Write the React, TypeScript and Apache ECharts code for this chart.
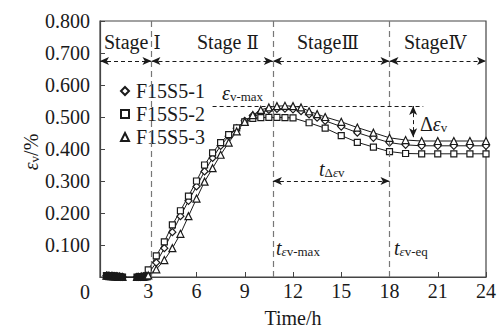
import React, { useEffect, useRef } from "react";
import * as echarts from "echarts";

const preTimes = [0.4, 0.5, 0.6, 0.7, 0.8, 0.9, 1.0, 1.1, 1.2, 1.3, 1.4, 1.5, 1.6, 1.7, 1.8, 1.9, 2.0, 2.1, 2.2, 2.3, 2.4, 2.5, 2.6, 2.7, 2.8, 2.9];
const preValues = [0.004, 0.004, 0.003, 0.003, 0.003, 0.002, 0.002, 0.001, 0.001, 0.0, 0.0, -0.001, -0.001, -0.001, -0.001, -0.001, -0.001, -0.001, -0.001, 0.0, 0.0, 0.0, 0.001, 0.001, 0.002, 0.003];

const timesA = [3, 3.5, 4, 4.5, 5, 5.5, 6, 6.5, 7, 7.5, 8, 8.5, 9, 9.5, 10, 10.5, 11, 11.5, 12, 12.5, 13, 13.5, 14, 15, 16, 17, 18, 19, 20, 21, 22, 23, 24];
const timesB = [3, 3.5, 4, 4.5, 5, 5.5, 6, 6.5, 7, 7.5, 8, 8.5, 9, 9.5, 10, 10.5, 11, 11.5, 12, 13, 14, 15, 16, 17, 18, 19, 20, 21, 22, 23, 24];

const s1Values = [0.01, 0.045, 0.09, 0.14, 0.19, 0.238, 0.283, 0.33, 0.372, 0.41, 0.44, 0.465, 0.488, 0.505, 0.515, 0.522, 0.525, 0.526, 0.524, 0.518, 0.508, 0.498, 0.488, 0.47, 0.451, 0.435, 0.42, 0.413, 0.41, 0.41, 0.41, 0.41, 0.41];
const s2Values = [0.022, 0.066, 0.11, 0.163, 0.207, 0.253, 0.3, 0.35, 0.388, 0.42, 0.445, 0.466, 0.485, 0.496, 0.498, 0.499, 0.499, 0.498, 0.497, 0.482, 0.465, 0.442, 0.421, 0.406, 0.392, 0.386, 0.385, 0.385, 0.385, 0.385, 0.385];
const s3Values = [0.005, 0.024, 0.053, 0.09, 0.135, 0.19, 0.245, 0.298, 0.34, 0.382, 0.42, 0.455, 0.485, 0.506, 0.522, 0.53, 0.534, 0.535, 0.534, 0.53, 0.518, 0.509, 0.5, 0.485, 0.467, 0.451, 0.435, 0.428, 0.425, 0.425, 0.425, 0.425, 0.425];

const seriesNames = ["F15S5-1", "F15S5-2", "F15S5-3"];
const xTicks = [0, 24, 3];
const yTicks = [0, 0.8, 0.1];

const stageBounds = [0, 3.2, 10.75, 18, 24];
const stageArrowY = 0.675;
const epsMaxY = 0.534;
const epsMaxLine = [7.0, 20.1];
const deltaX = 19.47;
const deltaBottom = 0.437;
const tDeltaY = 0.3;

const FONT = "Liberation Serif";
const ROMAN = "DejaVu Serif";
const INK = "#1a1a1a";

function build(times: number[], vals: number[]) {
  const pre: any[] = preTimes.map((t, i) => ({ value: [t, preValues[i]], itemStyle: { color: INK } }));
  return pre.concat(times.map((t, i) => [t, vals[i]]));
}

export default function App() {
  const ref = useRef<HTMLDivElement>(null);
  useEffect(() => {
    document.body.style.margin = "0";
    if (!ref.current) return;
    const chart = echarts.init(ref.current, null, { renderer: "svg" });

    const arrowPair = (a: number[], b: number[]) => [
      { coord: a, symbol: "arrow", symbolSize: [6, 9] },
      { coord: b, symbol: "arrow", symbolSize: [6, 9] },
    ];
    const dashedArrowStyle = { color: INK, width: 1, type: [4, 3] };

    const markLineData: any[] = [];
    for (let i = 0; i < stageBounds.length - 1; i++) {
      const p = arrowPair([stageBounds[i], stageArrowY], [stageBounds[i + 1], stageArrowY]);
      markLineData.push(p.map((q) => ({ ...q, lineStyle: dashedArrowStyle })));
    }
    [stageBounds[1], stageBounds[2], stageBounds[3]].forEach((x) => {
      markLineData.push([
        { coord: [x, yTicks[0]], symbol: "none", lineStyle: { color: "#777", width: 1.2, type: [6, 4] } },
        { coord: [x, yTicks[1]], symbol: "none" },
      ]);
    });
    markLineData.push([
      { coord: [epsMaxLine[0], epsMaxY], symbol: "none", lineStyle: dashedArrowStyle },
      { coord: [epsMaxLine[1], epsMaxY], symbol: "none" },
    ]);
    markLineData.push(
      arrowPair([deltaX, epsMaxY], [deltaX, deltaBottom]).map((q) => ({ ...q, lineStyle: dashedArrowStyle }))
    );
    markLineData.push(
      arrowPair([stageBounds[2], tDeltaY], [stageBounds[3], tDeltaY]).map((q) => ({ ...q, lineStyle: dashedArrowStyle }))
    );

    const symbols = ["diamond", "rect", "triangle"];
    const sizes = [7, 6, 7];
    const datas = [build(timesA, s1Values), build(timesB, s2Values), build(timesA, s3Values)];

    const series: any[] = seriesNames.map((name, i) => ({
      name,
      type: "line",
      data: datas[i],
      symbol: symbols[i],
      symbolSize: sizes[i],
      showSymbol: true,
      showAllSymbol: true,
      lineStyle: { color: INK, width: 1 },
      itemStyle: { color: "#fff", borderColor: INK, borderWidth: 1.2 },
      z: 3 + i,
      ...(i === 0
        ? {
            markLine: {
              silent: true,
              symbol: ["none", "none"],
              label: { show: false },
              animation: false,
              data: markLineData,
            },
          }
        : {}),
    }));

    const rich = {
      i: { fontFamily: FONT, fontSize: 20, fontStyle: "italic", color: INK },
      n: { fontFamily: FONT, fontSize: 20, color: INK },
      r: { fontFamily: ROMAN, fontSize: 18, color: INK },
      s: { fontFamily: FONT, fontSize: 13, color: INK, verticalAlign: "bottom" },
      si: { fontFamily: FONT, fontSize: 13, fontStyle: "italic", color: INK, verticalAlign: "bottom" },
    };
    const txt = (x: number, y: number, text: string, align = "left", extra: any = {}) => ({
      type: "text",
      x,
      y,
      silent: true,
      ...extra,
      style: { text, rich, fontFamily: FONT, fontSize: 20, fill: INK, align, verticalAlign: "middle" },
    });

    const option: any = {
      animation: false,
      textStyle: { fontFamily: FONT },
      grid: { left: 100, right: 14, top: 21, bottom: 53, show: true, borderColor: "#444", borderWidth: 1.2, backgroundColor: "transparent" },
      legend: {
        orient: "vertical",
        left: 115,
        top: 76,
        itemWidth: 8,
        itemHeight: 8,
        itemGap: 3,
        textStyle: { fontFamily: FONT, fontSize: 20, color: INK, padding: [0, 0, 0, 2] },
        data: seriesNames.map((n, i) => ({ name: n, icon: symbols[i] })),
      },
      xAxis: {
        type: "value",
        min: xTicks[0],
        max: xTicks[1],
        interval: xTicks[2],
        axisLine: { lineStyle: { color: "#444", width: 1.2 } },
        axisTick: { inside: true, length: 5, lineStyle: { color: "#444" } },
        axisLabel: {
          fontFamily: FONT,
          fontSize: 20,
          color: INK,
          margin: 4,
          formatter: (v: number) => (v === 0 ? "" : String(v)),
        },
        splitLine: { show: false },
      },
      yAxis: {
        type: "value",
        min: yTicks[0],
        max: yTicks[1],
        interval: yTicks[2],
        axisLine: { show: true, lineStyle: { color: "#444", width: 1.2 } },
        axisTick: { show: true, inside: true, length: 5, lineStyle: { color: "#444" } },
        axisLabel: {
          fontFamily: FONT,
          fontSize: 20,
          color: INK,
          margin: 10,
          formatter: (v: number) => (v === 0 ? "" : v.toFixed(3)),
        },
        splitLine: { show: false },
      },
      series,
      graphic: [
        txt(104, 42, "{n|Stage }{r|Ⅰ}"),
        txt(197, 42, "{n|Stage }{r|Ⅱ}"),
        txt(297, 42, "{n|Stage}{r|Ⅲ}"),
        txt(404, 42, "{n|Stage}{r|Ⅳ}"),
        txt(222, 93, "{i|ε}{s|v-max}"),
        txt(420, 124, "{n|Δ}{i|ε}{s|v}"),
        txt(319, 169, "{i|t}{s|Δ}{si|ε}{s|v}"),
        txt(276, 248, "{i|t}{si|ε}{s|v-max}"),
        txt(394, 248, "{i|t}{si|ε}{s|v-eq}"),
        txt(85, 292, "0", "center"),
        txt(293, 318, "Time/h", "center"),
        txt(31, 152, "{i|ε}{s|v}{n|/%}", "center", { rotation: Math.PI / 2 }),
      ],
    };
    chart.setOption(option);
    return () => chart.dispose();
  }, []);
  return <div ref={ref} style={{ width: 500, height: 330 }} />;
}
